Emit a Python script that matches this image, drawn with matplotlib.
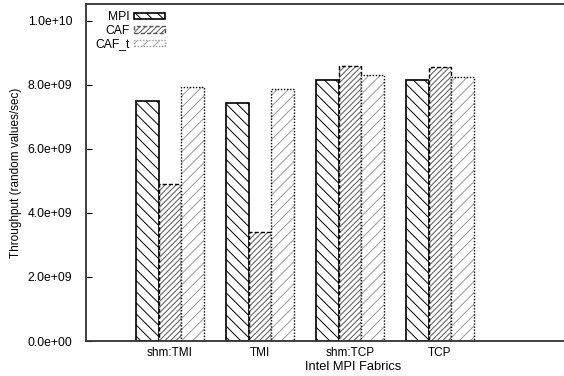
import matplotlib
matplotlib.use("Agg")
import matplotlib.pyplot as plt
import matplotlib.patches as mpatches
import numpy as np

categories = ["shm:TMI", "TMI", "shm:TCP", "TCP"]
series_names = ["MPI", "CAF", "CAF_t"]
mpi = [7.50e9, 7.44e9, 8.14e9, 8.14e9]
caf = [4.89e9, 3.41e9, 8.59e9, 8.55e9]
caf_t = [7.92e9, 7.86e9, 8.30e9, 8.23e9]
yticks = [0, 2e9, 4e9, 6e9, 8e9, 1e10]
ytick_labels = ["0.0e+00", "2.0e+09", "4.0e+09", "6.0e+09", "8.0e+09", "1.0e+10"]

plt.rcParams['font.family'] = ['Liberation Sans', 'DejaVu Sans']
plt.rcParams['hatch.linewidth'] = 0.7

W, H = 564, 376
fig = plt.figure(figsize=(W/100, H/100), dpi=100)
left_px, right_px, top_px, bot_px = 86, 620, 4, 341
ax = fig.add_axes([left_px/W, 1-bot_px/H, (right_px-left_px)/W, (bot_px-top_px)/H])

x = np.arange(len(categories))
bw = 0.252
styles = [
    dict(hatch='\\\\\\', hcol='black', ls='-', lw=1.2),
    dict(hatch='//////', hcol='#555555', ls=(0, (3, 1.5)), lw=1.0),
    dict(hatch='///', hcol='#999999', ls=(0, (1, 1.2)), lw=1.0),
]
handles = []
for i, (vals, st) in enumerate(zip([mpi, caf, caf_t], styles)):
    pos = x + (i - 1) * bw
    ax.bar(pos, vals, bw, color='white', edgecolor=st['hcol'], hatch=st['hatch'], linewidth=0)
    ax.bar(pos, vals, bw, fill=False, edgecolor='black', linestyle=st['ls'], linewidth=st['lw'])
    handles.append(mpatches.Patch(facecolor='white', edgecolor=st['hcol'], hatch=st['hatch'],
                                  linewidth=st['lw'], linestyle=st['ls']))

ax.set_xlim(-0.933, (right_px - 170) / 90)
ax.set_ylim(0, 1.052e10)
ax.set_xticks(x)
ax.set_xticklabels(categories, fontsize=8.5)
ax.tick_params(axis='x', length=0, pad=4)
ax.set_yticks(yticks)
ax.set_yticklabels(ytick_labels, fontsize=8.7)
ax.tick_params(axis='y', direction='in', length=4, width=0.8, pad=10)
ax.set_xlabel("Intel MPI Fabrics", fontsize=9.3, labelpad=2)
ax.set_ylabel("Throughput (random values/sec)", fontsize=8.5, labelpad=4)
for s in ['left', 'bottom', 'top']:
    ax.spines[s].set_color('#333333')
    ax.spines[s].set_linewidth(1.3)
ax.spines['right'].set_visible(False)

leg = fig.legend(handles, series_names, loc='upper right', bbox_to_anchor=(167/W, 1-9/H),
                 frameon=False, markerfirst=False, fontsize=8.7, handlelength=2.5,
                 handleheight=0.45, labelspacing=0.12, handletextpad=0.4, borderpad=0.2,
                 borderaxespad=0)
for t in leg.get_texts():
    t.set_ha('right')

fig.savefig("out.png", dpi=100)
